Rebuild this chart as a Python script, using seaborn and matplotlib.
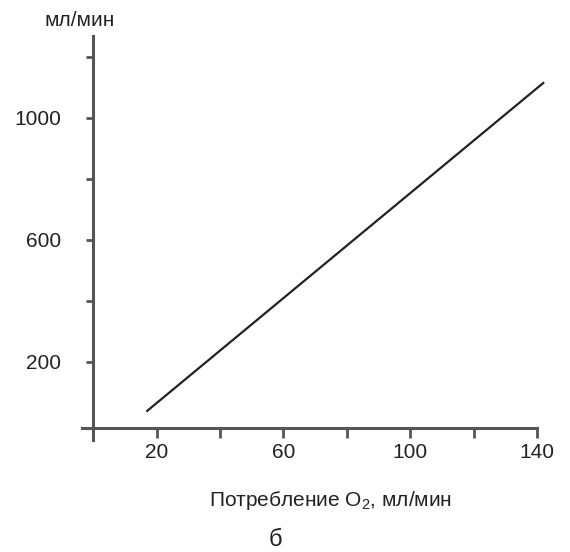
import matplotlib
matplotlib.use("Agg")
import matplotlib.pyplot as plt
import seaborn as sns
import pandas as pd

sns.set_style("white")
plt.rcParams['font.family'] = ['Liberation Sans', 'DejaVu Sans']

# Data
o2_consumption = [17, 142]
volume = [39, 1115]
x_ticks = [20, 40, 60, 80, 100, 120, 140]
x_tick_labels = ["20", "", "60", "", "100", "", "140"]
y_ticks = [200, 400, 600, 800, 1000, 1200]
y_tick_labels = ["200", "", "600", "", "1000", ""]

df = pd.DataFrame({"x": o2_consumption, "y": volume})

W, H = 570, 552
fig = plt.figure(figsize=(W / 100, H / 100), dpi=100)
ax = fig.add_axes([82 / W, (H - 440) / H, (553 - 82) / W, (440 - 34) / H])

sns.lineplot(data=df, x="x", y="y", ax=ax, color="#222222", linewidth=1.6)

ax.set_xlim(-3.5, 145)
ax.set_ylim(-56, 1275)

axis_color = "#555555"
for s in ["top", "right"]:
    ax.spines[s].set_visible(False)
ax.spines["left"].set_position(("data", 0))
ax.spines["left"].set_bounds(-56, 1270)
ax.spines["bottom"].set_position(("data", -16))
ax.spines["bottom"].set_bounds(-3.5, 140)
for s in ["left", "bottom"]:
    ax.spines[s].set_color(axis_color)
    ax.spines[s].set_linewidth(2.2)

ax.set_xticks(x_ticks)
ax.set_xticklabels(x_tick_labels)
ax.set_yticks(y_ticks)
ax.set_yticklabels(y_tick_labels)
ax.tick_params(axis="x", bottom=True, direction="out", length=7, width=2, color=axis_color,
               labelsize=15, pad=4, labelcolor="#222222")
ax.tick_params(axis="y", left=True, direction="out", length=5, width=2, color=axis_color,
               labelsize=15, pad=18, labelcolor="#222222")
ax.set_xlabel("")
ax.set_ylabel("")

fig.text(80 / W, 1 - 20 / H, "мл/мин", ha="center", va="center", fontsize=15, color="#222222")
fig.text(330 / W, 1 - 500 / H, "Потребление O$_\\mathregular{2}$, мл/мин", ha="center",
         va="center", fontsize=15, color="#222222")
fig.text(275 / W, 1 - 540 / H, "б", ha="center", va="center", fontsize=17, color="#222222")

fig.savefig("out.png", dpi=100)
